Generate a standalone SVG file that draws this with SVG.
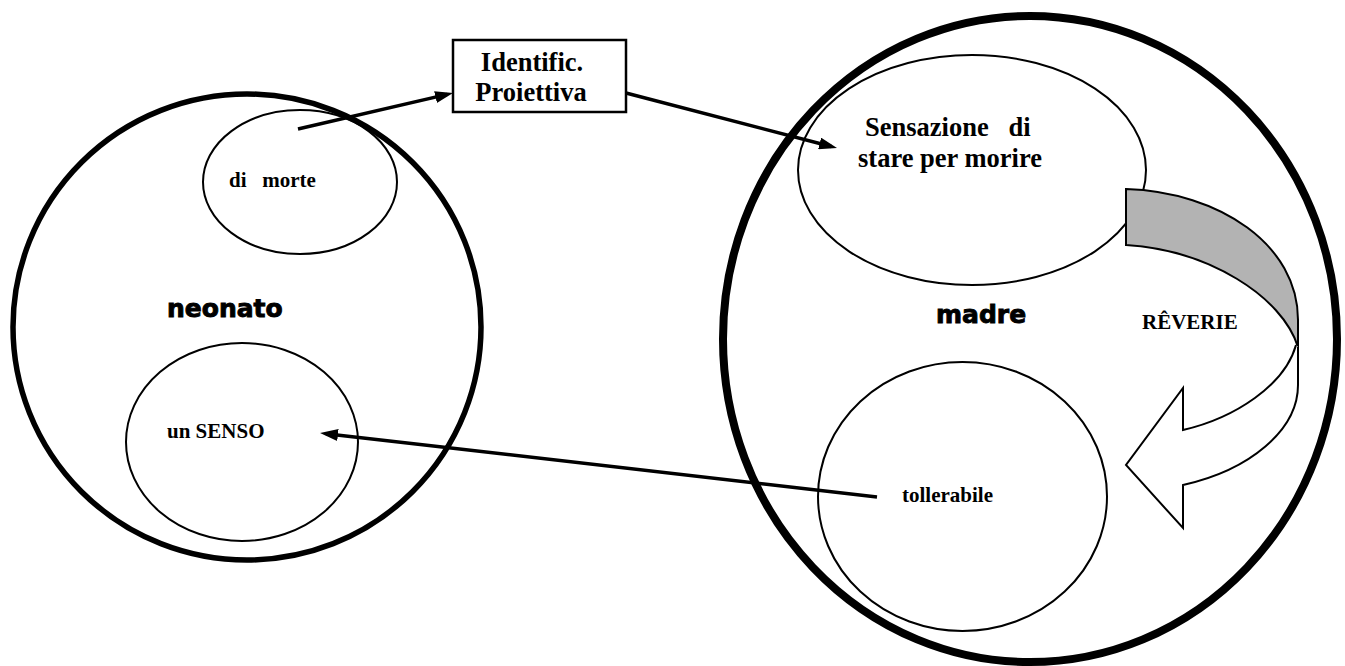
<svg xmlns="http://www.w3.org/2000/svg" width="1345" height="666" viewBox="0 0 1345 666">
  <style>
    .big { fill: none; stroke: #000; }
    .inner { fill: none; stroke: #000; stroke-width: 2; }
    .lbl { font-family: "Liberation Serif", "Times New Roman", serif; font-weight: bold; fill: #000; }
    .title { font-family: "DejaVu Sans", "Liberation Sans", sans-serif; font-weight: bold; font-size: 25px; fill: #000; stroke: #000; stroke-width: 0.9; }
    .conn { fill: none; stroke: #000; stroke-width: 3.5; marker-end: url(#head); }
  </style>
  <defs>
    <marker id="head" markerUnits="userSpaceOnUse" markerWidth="18" markerHeight="12" refX="12" refY="6" orient="auto">
      <path d="M0,0 L18,6 L0,12 Z" fill="#000"/>
    </marker>
  </defs>
  <rect width="1345" height="666" fill="#fff"/>

  <g id="neonato">
    <ellipse class="big" cx="247" cy="327" rx="234" ry="233" stroke-width="5.5"/>
    <text class="title" x="167" y="317">neonato</text>
  </g>
  <g id="di-morte">
    <ellipse class="inner" cx="300" cy="182" rx="97" ry="72"/>
    <text class="lbl" x="229" y="187" font-size="21" xml:space="preserve">di   morte</text>
  </g>
  <g id="un-senso">
    <ellipse class="inner" cx="242" cy="442" rx="116" ry="99"/>
    <text class="lbl" x="167" y="438" font-size="21">un SENSO</text>
  </g>

  <g id="identific">
    <rect x="453" y="40" width="173" height="72" fill="#fff" stroke="#000" stroke-width="2.5"/>
    <text class="lbl" x="532" y="71" font-size="26.5" text-anchor="middle">Identific.</text>
    <text class="lbl" x="531" y="101" font-size="26.5" text-anchor="middle">Proiettiva</text>
  </g>

  <g id="madre">
    <ellipse class="big" cx="1030" cy="339" rx="307" ry="323" stroke-width="8"/>
    <text class="title" x="936" y="323">madre</text>
  </g>
  <g id="sensazione">
    <ellipse class="inner" cx="972" cy="170" rx="174" ry="115"/>
    <text class="lbl" x="865" y="136" font-size="26.5" xml:space="preserve">Sensazione   di</text>
    <text class="lbl" x="858" y="167" font-size="26.5">stare per morire</text>
  </g>
  <g id="tollerabile">
    <ellipse class="inner" cx="962.5" cy="496.5" rx="144.5" ry="134.5"/>
    <text class="lbl" x="902" y="502" font-size="21">tollerabile</text>
  </g>

  <g id="reverie">
    <path d="M1126,189 C1220,192 1298,245 1298,320 L1298,347 C1282,296 1208,250 1126,245 Z" fill="#b3b3b3" stroke="#000" stroke-width="2"/>
    <path d="M1298,347 L1298,385 C1298,430 1250,470 1183,485 L1183,528 L1126,465 L1183,388 L1183,430 C1235,418 1285,385 1296,345" fill="#fff" stroke="#000" stroke-width="2" stroke-linejoin="miter"/>
    <text class="lbl" x="1142" y="329" font-size="21">RÊVERIE</text>
  </g>

  <g id="connectors">
    <line class="conn" x1="298" y1="129" x2="447.2" y2="94.4"/>
    <line class="conn" x1="626" y1="93" x2="831.2" y2="146.5"/>
    <line class="conn" x1="877" y1="497" x2="326" y2="433.7"/>
  </g>
</svg>
